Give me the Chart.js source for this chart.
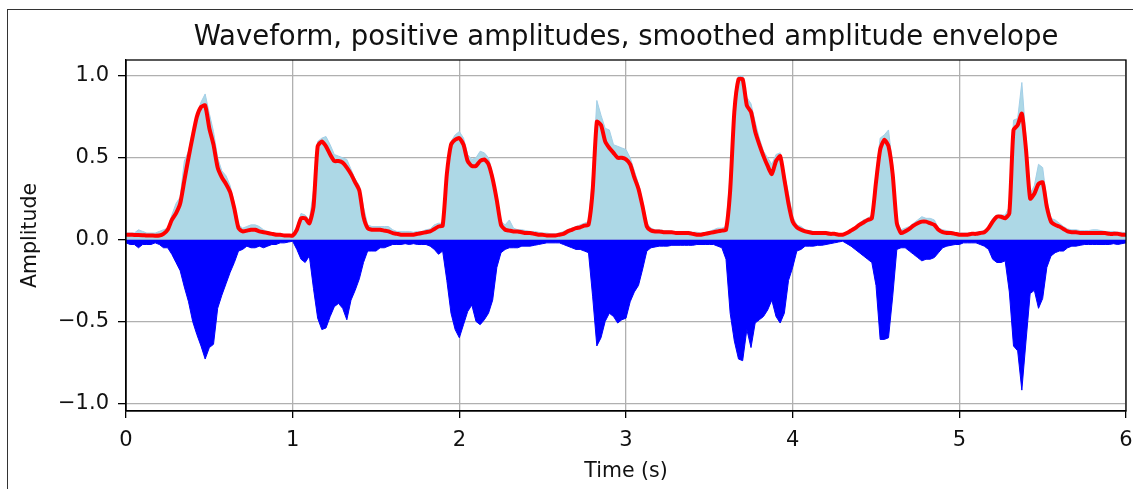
<!DOCTYPE html>
<html>
<head>
<meta charset="utf-8">
<script src="https://cdn.jsdelivr.net/npm/chart.js@4.4.1/dist/chart.umd.min.js"></script>
<style>
  html, body { margin: 0; padding: 0; background: #fff; }
  #wrap { width: 1133px; height: 489px; }
</style>
</head>
<body>
<div id="wrap"><canvas id="waveChart" width="1133" height="489"></canvas></div>
<script>
// sample times (s)
var times = [
  0,0.025,0.05,0.075,0.1,0.125,0.15,0.175,0.2,0.225,0.25,0.275,0.3,0.325,0.35,0.375,0.4,0.425,0.45,0.475,
  0.5,0.525,0.55,0.575,0.6,0.625,0.65,0.675,0.7,0.725,0.75,0.775,0.8,0.825,0.85,0.875,0.9,0.925,0.95,0.975,
  1,1.025,1.05,1.075,1.1,1.125,1.15,1.175,1.2,1.225,1.25,1.275,1.3,1.325,1.35,1.375,1.4,1.425,1.45,1.475,
  1.5,1.525,1.55,1.575,1.6,1.625,1.65,1.675,1.7,1.725,1.75,1.775,1.8,1.825,1.85,1.875,1.9,1.925,1.95,1.975,
  2,2.025,2.05,2.075,2.1,2.125,2.15,2.175,2.2,2.225,2.25,2.275,2.3,2.325,2.35,2.375,2.4,2.425,2.45,2.475,
  2.5,2.525,2.55,2.575,2.6,2.625,2.65,2.675,2.7,2.725,2.75,2.775,2.8,2.825,2.85,2.875,2.9,2.925,2.95,2.975,
  3,3.025,3.05,3.075,3.1,3.125,3.15,3.175,3.2,3.225,3.25,3.275,3.3,3.325,3.35,3.375,3.4,3.425,3.45,3.475,
  3.5,3.525,3.55,3.575,3.6,3.625,3.65,3.675,3.7,3.725,3.75,3.775,3.8,3.825,3.85,3.875,3.9,3.925,3.95,3.975,
  4,4.025,4.05,4.075,4.1,4.125,4.15,4.175,4.2,4.225,4.25,4.275,4.3,4.325,4.35,4.375,4.4,4.425,4.45,4.475,
  4.5,4.525,4.55,4.575,4.6,4.625,4.65,4.675,4.7,4.725,4.75,4.775,4.8,4.825,4.85,4.875,4.9,4.925,4.95,4.975,
  5,5.025,5.05,5.075,5.1,5.125,5.15,5.175,5.2,5.225,5.25,5.275,5.3,5.325,5.35,5.375,5.4,5.425,5.45,5.475,
  5.5,5.525,5.55,5.575,5.6,5.625,5.65,5.675,5.7,5.725,5.75,5.775,5.8,5.825,5.85,5.875,5.9,5.925,5.95,5.975,
  6
];

// positive amplitudes (light blue)
var posAmp = [
  0.04,0.04,0.04,0.06,0.05,0.04,0.04,0.04,0.05,0.06,0.07,0.15,0.22,0.26,0.48,0.54,0.66,0.76,0.84,0.89,
  0.77,0.66,0.50,0.42,0.39,0.33,0.22,0.09,0.07,0.08,0.09,0.09,0.08,0.06,0.05,0.04,0.04,0.035,0.03,0.03,
  0.03,0.08,0.16,0.15,0.12,0.30,0.60,0.62,0.63,0.58,0.52,0.51,0.50,0.49,0.43,0.37,0.33,0.20,0.09,0.08,
  0.08,0.08,0.08,0.08,0.06,0.05,0.05,0.05,0.05,0.045,0.05,0.05,0.06,0.065,0.09,0.10,0.10,0.45,0.60,0.64,
  0.66,0.62,0.52,0.49,0.50,0.54,0.53,0.50,0.40,0.27,0.11,0.09,0.12,0.07,0.06,0.06,0.055,0.05,0.05,0.045,
  0.04,0.04,0.035,0.035,0.04,0.05,0.06,0.07,0.08,0.09,0.10,0.11,0.40,0.85,0.76,0.68,0.67,0.58,0.57,0.56,
  0.55,0.50,0.42,0.34,0.23,0.10,0.07,0.06,0.06,0.055,0.055,0.05,0.05,0.05,0.05,0.05,0.045,0.045,0.04,0.045,
  0.05,0.06,0.07,0.07,0.08,0.40,0.82,1.00,1.00,0.87,0.83,0.72,0.62,0.54,0.50,0.46,0.52,0.53,0.40,0.28,
  0.14,0.09,0.08,0.06,0.055,0.05,0.05,0.05,0.05,0.045,0.04,0.035,0.03,0.045,0.06,0.08,0.10,0.12,0.13,0.15,
  0.40,0.62,0.64,0.67,0.45,0.12,0.06,0.07,0.08,0.10,0.12,0.14,0.13,0.13,0.12,0.07,0.06,0.055,0.05,0.045,
  0.04,0.04,0.04,0.04,0.045,0.05,0.055,0.08,0.13,0.15,0.15,0.15,0.20,0.73,0.74,0.96,0.62,0.28,0.33,0.46,
  0.44,0.24,0.13,0.12,0.10,0.08,0.065,0.06,0.06,0.055,0.055,0.055,0.06,0.06,0.055,0.05,0.05,0.05,0.045,0.045,
  0.04
];

// waveform, negative side (blue)
var negAmp = [
  -0.02,-0.03,-0.03,-0.05,-0.03,-0.03,-0.03,-0.02,-0.03,-0.05,-0.05,-0.09,-0.14,-0.19,-0.29,-0.38,-0.50,-0.58,-0.65,-0.73,
  -0.66,-0.64,-0.42,-0.34,-0.27,-0.20,-0.14,-0.07,-0.06,-0.04,-0.05,-0.05,-0.04,-0.05,-0.04,-0.03,-0.03,-0.02,-0.02,-0.015,
  -0.01,-0.06,-0.12,-0.14,-0.10,-0.30,-0.48,-0.55,-0.54,-0.47,-0.41,-0.39,-0.42,-0.49,-0.37,-0.31,-0.24,-0.14,-0.07,-0.07,
  -0.07,-0.05,-0.05,-0.04,-0.03,-0.03,-0.03,-0.025,-0.03,-0.025,-0.03,-0.03,-0.03,-0.04,-0.06,-0.09,-0.07,-0.25,-0.45,-0.55,
  -0.60,-0.52,-0.44,-0.40,-0.50,-0.52,-0.49,-0.45,-0.37,-0.17,-0.08,-0.06,-0.05,-0.05,-0.05,-0.04,-0.04,-0.04,-0.035,-0.03,
  -0.025,-0.02,-0.02,-0.02,-0.02,-0.03,-0.04,-0.05,-0.06,-0.06,-0.07,-0.08,-0.35,-0.65,-0.60,-0.50,-0.45,-0.47,-0.51,-0.49,
  -0.48,-0.38,-0.32,-0.28,-0.18,-0.07,-0.05,-0.045,-0.04,-0.04,-0.04,-0.035,-0.035,-0.035,-0.035,-0.035,-0.035,-0.03,-0.03,-0.03,
  -0.03,-0.03,-0.04,-0.05,-0.12,-0.45,-0.62,-0.73,-0.74,-0.55,-0.66,-0.51,-0.49,-0.47,-0.43,-0.37,-0.47,-0.51,-0.45,-0.25,
  -0.17,-0.07,-0.06,-0.04,-0.04,-0.04,-0.035,-0.035,-0.03,-0.025,-0.02,-0.015,-0.01,-0.025,-0.04,-0.06,-0.08,-0.10,-0.12,-0.14,
  -0.28,-0.61,-0.61,-0.60,-0.35,-0.06,-0.05,-0.05,-0.07,-0.09,-0.11,-0.13,-0.12,-0.12,-0.11,-0.08,-0.05,-0.04,-0.035,-0.03,
  -0.03,-0.02,-0.02,-0.02,-0.02,-0.03,-0.04,-0.06,-0.12,-0.14,-0.14,-0.13,-0.32,-0.65,-0.68,-0.92,-0.62,-0.33,-0.31,-0.42,
  -0.36,-0.17,-0.10,-0.08,-0.07,-0.07,-0.05,-0.04,-0.04,-0.035,-0.03,-0.03,-0.03,-0.03,-0.03,-0.03,-0.03,-0.025,-0.03,-0.025,
  -0.02
];

// smoothed amplitude envelope (red)
var envelope = [
  0.030,0.030,0.028,0.028,0.027,0.025,0.025,0.024,0.025,0.035,0.06,0.12,0.16,0.22,0.36,0.50,0.63,0.75,0.81,0.82,
  0.68,0.58,0.44,0.38,0.34,0.29,0.19,0.07,0.05,0.055,0.06,0.06,0.05,0.045,0.04,0.035,0.03,0.03,0.025,0.025,
  0.025,0.06,0.13,0.13,0.10,0.20,0.57,0.60,0.57,0.52,0.48,0.48,0.47,0.44,0.40,0.35,0.30,0.14,0.07,0.06,
  0.06,0.06,0.055,0.05,0.04,0.035,0.03,0.03,0.03,0.03,0.035,0.04,0.045,0.05,0.065,0.08,0.085,0.40,0.58,0.61,
  0.62,0.58,0.48,0.45,0.45,0.48,0.49,0.46,0.37,0.24,0.09,0.06,0.055,0.05,0.05,0.045,0.04,0.04,0.035,0.03,
  0.03,0.025,0.025,0.025,0.03,0.035,0.05,0.06,0.07,0.075,0.085,0.09,0.30,0.72,0.70,0.60,0.56,0.53,0.50,0.50,
  0.49,0.46,0.38,0.31,0.20,0.08,0.055,0.05,0.05,0.045,0.045,0.045,0.04,0.04,0.04,0.04,0.035,0.03,0.03,0.035,
  0.04,0.045,0.05,0.055,0.06,0.30,0.78,0.98,0.98,0.82,0.78,0.66,0.58,0.51,0.45,0.40,0.48,0.51,0.37,0.22,
  0.11,0.075,0.06,0.05,0.045,0.04,0.04,0.04,0.04,0.035,0.035,0.03,0.03,0.04,0.055,0.07,0.09,0.105,0.12,0.13,
  0.35,0.55,0.61,0.57,0.40,0.10,0.04,0.05,0.065,0.085,0.10,0.11,0.11,0.10,0.09,0.06,0.045,0.04,0.04,0.035,
  0.03,0.03,0.03,0.035,0.035,0.04,0.045,0.07,0.11,0.14,0.14,0.13,0.16,0.67,0.70,0.77,0.55,0.25,0.28,0.34,
  0.35,0.20,0.11,0.09,0.08,0.065,0.05,0.045,0.045,0.04,0.04,0.04,0.04,0.04,0.04,0.04,0.035,0.035,0.035,0.03,
  0.03
];

var xTicks = [0, 1, 2, 3, 4, 5, 6];
var yTicks = [-1.0, -0.5, 0.0, 0.5, 1.0];
var titleText = 'Waveform, positive amplitudes, smoothed amplitude envelope';

function toPoints(arr) {
  return times.map(function(t, i) { return { x: t, y: arr[i] }; });
}

var FONT = "'DejaVu Sans', sans-serif";
var TXT = '#111';

// figure frame, axes box and axes title (matplotlib look)
var framePlugin = {
  id: 'framePlugin',
  beforeDraw: function(chart) {
    var ctx = chart.ctx;
    ctx.save();
    ctx.fillStyle = '#fff';
    ctx.fillRect(0, 0, chart.width, chart.height);
    ctx.strokeStyle = '#333';
    ctx.lineWidth = 1;
    ctx.strokeRect(7.5, 9.5, 1140, 500);
    ctx.restore();
  },
  afterDatasetsDraw: function(chart) {
    var a = chart.chartArea;
    var ctx = chart.ctx;
    ctx.save();
    ctx.strokeStyle = '#000';
    ctx.lineWidth = 1.3;
    ctx.strokeRect(a.left, a.top, a.right - a.left, a.bottom - a.top);
    ctx.fillStyle = TXT;
    ctx.font = '27.5px ' + FONT;
    ctx.textAlign = 'center';
    ctx.textBaseline = 'middle';
    ctx.fillText(titleText, (a.left + a.right) / 2, 38);
    ctx.restore();
  }
};

var ctx = document.getElementById('waveChart').getContext('2d');
new Chart(ctx, {
  type: 'line',
  data: {
    datasets: [{
      label: 'envelope',
      data: toPoints(envelope),
      borderColor: '#ff0000',
      borderWidth: 4,
      pointRadius: 0,
      fill: false,
      tension: 0.2,
      order: 0
    }, {
      label: 'positive',
      data: toPoints(posAmp),
      borderColor: '#a3cfe8',
      backgroundColor: '#add8e6',
      borderWidth: 1,
      pointRadius: 0,
      fill: 'origin',
      tension: 0,
      order: 1
    }, {
      label: 'waveform',
      data: toPoints(negAmp),
      borderColor: '#0000ff',
      backgroundColor: '#0000ff',
      borderWidth: 1,
      pointRadius: 0,
      fill: 'origin',
      tension: 0,
      order: 2
    }]
  },
  options: {
    responsive: false,
    animation: false,
    devicePixelRatio: 1,
    layout: { padding: { left: 0, right: 7, top: 60, bottom: 0 } },
    plugins: {
      legend: { display: false },
      tooltip: { enabled: false },
      title: { display: false }
    },
    scales: {
      x: {
        type: 'linear',
        min: 0,
        max: 6,
        afterBuildTicks: function(scale) {
          scale.ticks = xTicks.map(function(v) { return { value: v }; });
        },
        afterFit: function(scale) {
          scale.height = 78;
          scale.paddingLeft = 0;
          scale.paddingRight = 0;
        },
        ticks: {
          color: TXT,
          font: { family: FONT, size: 21 },
          padding: 10,
          maxRotation: 0,
          callback: function(v) { return String(v); }
        },
        grid: {
          color: '#b0b0b0',
          lineWidth: 1.3,
          tickColor: '#000',
          tickLength: 7,
          tickWidth: 1.3
        },
        border: { color: '#000', width: 1.3 },
        title: {
          display: true,
          text: 'Time (s)',
          color: TXT,
          font: { family: FONT, size: 20.5, lineHeight: 1.2 },
          padding: { top: 0, bottom: 5 }
        }
      },
      y: {
        type: 'linear',
        min: -1.0475,
        max: 1.0975,
        afterBuildTicks: function(scale) {
          scale.ticks = yTicks.map(function(v) { return { value: v }; });
        },
        afterFit: function(scale) {
          scale.width = 126;
          scale.paddingTop = 0;
          scale.paddingBottom = 0;
        },
        ticks: {
          color: TXT,
          font: { family: FONT, size: 21 },
          padding: 9,
          callback: function(v) { return v.toFixed(1).replace('-', '\u2212'); }
        },
        grid: {
          color: '#b0b0b0',
          lineWidth: 1.3,
          tickColor: '#000',
          tickLength: 8,
          tickWidth: 1.3
        },
        border: { color: '#000', width: 1.3 },
        title: {
          display: true,
          text: 'Amplitude',
          color: TXT,
          font: { family: FONT, size: 20.5, lineHeight: 1.2 },
          padding: { top: 18, bottom: 0 }
        }
      }
    }
  },
  plugins: [framePlugin]
});
</script>
</body>
</html>
